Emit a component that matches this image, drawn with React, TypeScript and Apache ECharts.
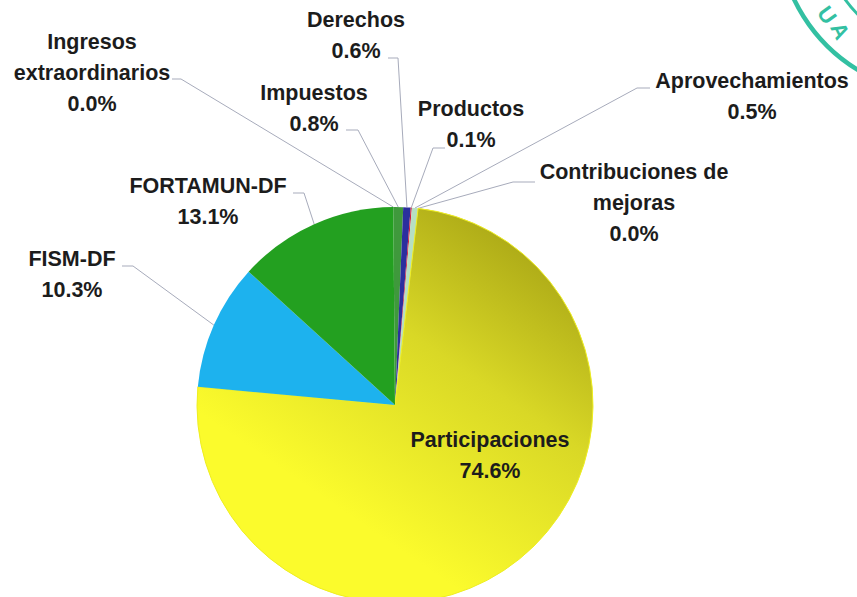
import React, { useEffect, useRef } from 'react';
import * as echarts from 'echarts';

// Data (clockwise from the top)
const categories = [
  'Impuestos',
  'Derechos',
  'Productos',
  'Aprovechamientos',
  'Contribuciones de\nmejoras',
  'Participaciones',
  'FISM-DF',
  'FORTAMUN-DF',
  'Ingresos\nextraordinarios',
];
const values = [0.8, 0.6, 0.1, 0.5, 0.0, 74.6, 10.3, 13.1, 0.0];

// Styles
const sliceColors: any[] = [
  '#3f993c',
  '#2b2f9e',
  '#d0203e',
  '#b6dfc2',
  '#9fd6b0',
  new echarts.graphic.LinearGradient(0.78, 0.02, 0.3, 0.72, [
    { offset: 0, color: '#a9a616' },
    { offset: 0.45, color: '#d9d826' },
    { offset: 1, color: '#fbfb2c' },
  ]),
  '#1db2ee',
  '#23a020',
  '#2d8a2d',
];

// Label layout (text block centres, leader elbow and end points)
const labelCenters: number[][] = [
  [314, 108], [356, 35], [471, 124], [752, 96], [634, 203],
  [490, 455], [72, 274], [208, 201], [92, 73],
];
const elbows: (number[] | null)[] = [
  [358, 130], [398, 58], [433, 148], [637, 88], [513, 182],
  null, [133, 266], [304, 193], [181, 79],
];
const ends: (number[] | null)[] = [
  [346, 130], [388, 58], [445, 148], [650, 88], [535, 182],
  null, [122, 266], [293, 193], [172, 79],
];

export default function App() {
  const ref = useRef<HTMLDivElement>(null);
  useEffect(() => {
    const chart = echarts.init(ref.current!, null, { renderer: 'svg' });
    const cx = 395, cy = 405, r = 198, start = 90.5;
    const total = values.reduce((a, b) => a + b, 0);
    const mids: number[] = [];
    let acc = 0;
    values.forEach((v) => { mids.push(acc + v / 2); acc += v; });
    const edge = (i: number) => {
      const th = ((mids[i] / total) * 360 - (start - 90)) * Math.PI / 180;
      return [cx + r * Math.sin(th), cy - r * Math.cos(th)];
    };
    const font = '"Liberation Sans", Arial, sans-serif';
    const stamp = '#33c0a2';
    const stampText = (t: string, x: number, y: number, rot: number) => ({
      type: 'text', x, y, rotation: rot, z: 10,
      style: { text: t, fill: stamp, font: 'bold 22px "Liberation Sans", Arial, sans-serif', align: 'center', verticalAlign: 'middle' },
    });
    chart.setOption({
      animation: false,
      backgroundColor: '#ffffff',
      graphic: {
        elements: [
          { type: 'circle', z: 10, shape: { cx: 944, cy: -72, r: 166 }, style: { fill: 'none', stroke: stamp, lineWidth: 4.5 } },
          { type: 'circle', z: 10, shape: { cx: 944, cy: -72, r: 122 }, style: { fill: 'none', stroke: stamp, lineWidth: 3 } },
          stampText('U', 827, 15, -0.95),
          stampText('A', 840, 31, -1.1),
        ],
      },
      series: [
        {
          type: 'pie',
          center: [cx, cy],
          radius: r,
          startAngle: start,
          clockwise: true,
          avoidLabelOverlap: false,
          minShowLabelAngle: 0,
          emphasis: { disabled: true },
          itemStyle: { borderWidth: 0 },
          label: {
            show: true,
            formatter: (p: any) => `${p.name}\n${Number(p.value).toFixed(1)}%`,
            fontFamily: font,
            fontSize: 21.5,
            fontWeight: 'bold',
            color: '#1c1c1c',
            lineHeight: 31,
            align: 'center',
          },
          labelLine: { show: true, lineStyle: { color: '#a7abbb', width: 1 } },
          labelLayout: (params: any) => {
            const i = params.dataIndex;
            const c = labelCenters[i];
            const out: any = { x: c[0], y: c[1], align: 'center', verticalAlign: 'middle' };
            if (elbows[i] && ends[i]) {
              out.labelLinePoints = [edge(i), elbows[i], ends[i]];
            }
            return out;
          },
          data: categories.map((n, i) => {
            const item: any = { name: n, value: values[i], itemStyle: { color: sliceColors[i], borderWidth: 0 } };
            if (i === 5) {
              item.label = { position: 'inside' };
              item.labelLine = { show: false };
              item.itemStyle.borderColor = '#eeee22';
              item.itemStyle.borderWidth = 1;
            }
            return item;
          }),
        },
      ],
    });
    return () => chart.dispose();
  }, []);
  return <div ref={ref} style={{ position: 'fixed', left: 0, top: 0, width: 857, height: 597 }} />;
}
